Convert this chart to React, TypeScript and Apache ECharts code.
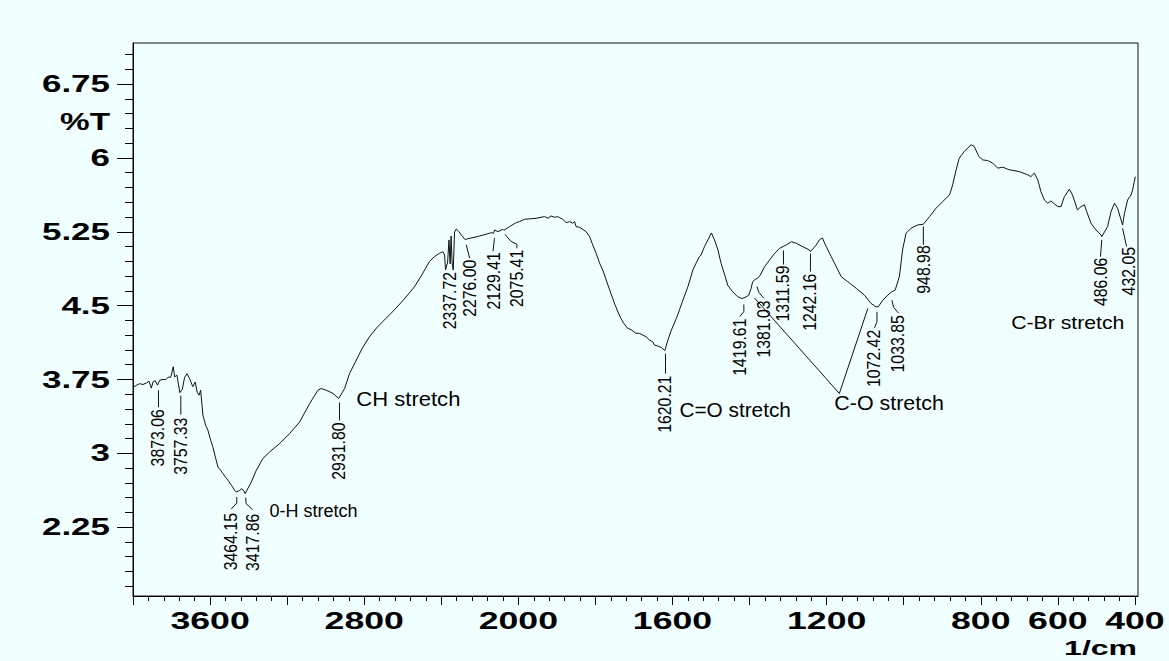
import React, { useEffect, useRef } from 'react';
import * as echarts from 'echarts';

// ---------------- DATA ----------------
// FTIR spectrum: wavenumber (1/cm) and transmittance (%T)
const wavenumbers = [
  3995, 3981, 3965, 3948, 3930, 3917, 3905, 3896, 3885, 3873, 3861, 3844, 3830, 3818, 3804, 3791, 3784, 3772, 3757, 3744,
  3732, 3719, 3706, 3690, 3677, 3667, 3657, 3649, 3637, 3623, 3611, 3597, 3585, 3571, 3559, 3545, 3533, 3519, 3507, 3489,
  3472, 3464, 3446, 3435, 3423, 3418, 3386, 3360, 3326, 3291, 3239, 3187, 3135, 3083, 3040, 3023, 2997, 2962, 2932, 2902,
  2876, 2841, 2810, 2774, 2732, 2691, 2644, 2592, 2540, 2504, 2462, 2436, 2410, 2392, 2383, 2378, 2367, 2360, 2354, 2349,
  2344, 2338, 2331, 2322, 2309, 2296, 2276, 2262, 2236, 2201, 2167, 2141, 2129, 2123, 2106, 2080, 2075, 2046, 2011, 1997,
  1984, 1954, 1932, 1923, 1915, 1906, 1898, 1885, 1876, 1867, 1859, 1854, 1850, 1841, 1824, 1815, 1807, 1798, 1789, 1781,
  1772, 1763, 1750, 1737, 1727, 1717, 1706, 1696, 1686, 1668, 1660, 1651, 1647, 1638, 1629, 1620, 1612, 1603, 1590, 1582,
  1573, 1560, 1547, 1539, 1530, 1526, 1517, 1508, 1499, 1491, 1482, 1474, 1463, 1457, 1444, 1431, 1420, 1411, 1402, 1396,
  1392, 1385, 1379, 1372, 1361, 1348, 1335, 1322, 1305, 1291, 1279, 1262, 1245, 1242, 1227, 1219, 1211, 1201, 1188, 1175,
  1162, 1145, 1123, 1102, 1085, 1072, 1066, 1054, 1041, 1032, 1022, 1011, 1003, 994, 981, 964, 949, 933, 916, 899,
  881, 873, 864, 856, 843, 825, 817, 805, 795, 782, 769, 756, 743, 726, 700, 678, 670, 661, 652, 644,
  635, 626, 618, 609, 600, 592, 583, 570, 562, 549, 540, 531, 525, 514, 501, 488, 486, 471, 462, 453,
  445, 432, 427, 419, 410, 406, 399,
];
const transmittance = [
  3.675, 3.692, 3.707, 3.699, 3.715, 3.733, 3.662, 3.726, 3.738, 3.692, 3.743, 3.75, 3.748, 3.773, 3.773, 3.88, 3.776, 3.794, 3.616, 3.651,
  3.773, 3.809, 3.758, 3.677, 3.723, 3.621, 3.59, 3.641, 3.387, 3.285, 3.234, 3.133, 3.061, 2.95, 2.861, 2.828, 2.794, 2.756, 2.726, 2.675,
  2.624, 2.607, 2.624, 2.641, 2.614, 2.59, 2.709, 2.828, 2.947, 3.014, 3.099, 3.201, 3.319, 3.506, 3.641, 3.658, 3.641, 3.608, 3.557, 3.658,
  3.811, 3.946, 4.068, 4.18, 4.282, 4.363, 4.455, 4.567, 4.689, 4.801, 4.946, 4.997, 5.031, 5.048, 5.014, 4.862, 4.943, 5.167, 4.923, 5.207,
  4.943, 4.862, 5.248, 5.279, 5.251, 5.218, 5.17, 5.18, 5.19, 5.207, 5.225, 5.241, 5.235, 5.268, 5.251, 5.276, 5.265, 5.302, 5.343, 5.353,
  5.377, 5.387, 5.404, 5.387, 5.411, 5.397, 5.404, 5.377, 5.343, 5.353, 5.337, 5.353, 5.302, 5.296, 5.251, 5.2, 5.116, 5.031, 4.93, 4.862,
  4.76, 4.658, 4.516, 4.394, 4.323, 4.272, 4.252, 4.221, 4.218, 4.183, 4.15, 4.132, 4.099, 4.089, 4.075, 4.043, 4.15, 4.251, 4.37, 4.455,
  4.556, 4.692, 4.862, 4.93, 4.997, 5.014, 5.099, 5.167, 5.238, 5.167, 5.065, 4.93, 4.793, 4.709, 4.641, 4.59, 4.572, 4.584, 4.607, 4.675,
  4.743, 4.767, 4.777, 4.811, 4.895, 4.963, 5.031, 5.082, 5.116, 5.149, 5.133, 5.099, 5.065, 5.048, 5.116, 5.167, 5.187, 5.099, 4.997, 4.895,
  4.793, 4.743, 4.675, 4.607, 4.523, 4.488, 4.488, 4.556, 4.607, 4.638, 4.658, 4.8, 5.065, 5.235, 5.286, 5.319, 5.326, 5.404, 5.489, 5.556,
  5.624, 5.726, 5.879, 5.997, 6.065, 6.133, 6.116, 6.014, 5.98, 5.973, 5.947, 5.896, 5.906, 5.879, 5.861, 5.828, 5.81, 5.845, 5.777, 5.658,
  5.573, 5.54, 5.563, 5.533, 5.505, 5.505, 5.607, 5.682, 5.624, 5.472, 5.505, 5.523, 5.454, 5.336, 5.268, 5.218, 5.2, 5.302, 5.454, 5.54,
  5.489, 5.319, 5.438, 5.573, 5.624, 5.675, 5.81,
];

// Straight V-shaped stroke drawn across the 1400-1090 region
const strokeWavenumbers = [1387, 1167, 1093];
const strokeTransmittance = [4.577, 3.608, 4.472];

// Peak picks
const peakLabels = [
  '3873.06', '3757.33', '3464.15', '3417.86', '2931.80', '2337.72', '2276.00', '2129.41', '2075.41', '1620.21',
  '1419.61', '1381.03', '1311.59', '1242.16', '1072.42', '1033.85', '948.98', '486.06', '432.05',
];
const peakWavenumbers = [3873, 3757, 3464, 3418, 2932, 2338, 2276, 2129, 2075, 1620, 1420, 1381, 1312, 1242, 1072, 1034, 949, 486, 432];
const peakTransmittance = [3.692, 3.616, 2.607, 2.59, 3.557, 4.862, 5.17, 5.235, 5.265, 4.043, 4.572, 4.777, 5.1, 5.048, 4.488, 4.636, 5.326, 5.2, 5.319];

// Band assignments (text anchored at left-middle)
const bandNames = ['0-H stretch', 'CH stretch', 'C=O stretch', 'C-O stretch', 'C-Br stretch'];
const bandWavenumbers = [3291, 2841, 1582, 1180, 721];
const bandTransmittance = [2.411, 3.545, 3.438, 3.514, 4.328];

// Axis ticks
const xMajorTicks = [4000, 3600, 3200, 2800, 2400, 2000, 1800, 1600, 1400, 1200, 1000, 800, 600, 400];
const xLabelTicks = [3600, 2800, 2000, 1600, 1200, 800, 600, 400];
const yMajorTicks = [2.25, 3, 3.75, 4.5, 5.25, 6, 6.75];
const yMinorTicks = [
  1.65, 1.8, 1.95, 2.1, 2.4, 2.55, 2.7, 2.85, 3.15, 3.3, 3.45, 3.6, 3.9, 4.05, 4.2, 4.35, 4.65, 4.8, 4.95, 5.1,
  5.4, 5.55, 5.7, 5.85, 6.15, 6.3, 6.45, 6.6, 6.9, 7.05,
];
const xName = '1/cm';
const yName = '%T';

// ---------------- LAYOUT / STYLE ----------------
const BG = '#F0FFFF';
const FONT = '"Liberation Sans", Arial, sans-serif';
const WN_LEFT = 4000;
const U_MAX = 2608; // right frame ~392 1/cm
const Y_MIN = 1.551;
const Y_MAX = 7.167;

// Shimadzu-style axis: 400 1/cm per division above 2000, 200 below
function wnToU(wn: number): number {
  return wn >= 2000 ? (WN_LEFT - wn) / 2 : 1000 + (2000 - wn);
}

// leader polylines and text anchors, pixel offsets from the peak point
const peakLeaderOffsets: number[][][] = [
  [[1, 5], [1, 22]],
  [[1, 3], [1, 22]],
  [[0.5, 5], [0.5, 11], [-5, 17]],
  [[0.5, 4], [1, 10], [7.5, 16]],
  [[0.7, 4], [0.7, 22]],
  [],
  [[1, 5], [4.5, 18.5]],
  [[1, 5], [-0.5, 18]],
  [[1, 4], [7, 11], [13, 14], [13, 18]],
  [[0.7, 3], [0.7, 23]],
  [[2, 6], [2, 13], [-2, 18]],
  [[0, 8], [2, 14], [7, 20]],
  [[0, 4], [0, 18]],
  [[0, 2], [0, 20]],
  [[1, 5], [1, 15], [-1.5, 21]],
  [[1.3, 8], [3, 15], [8, 21]],
  [[0, 2], [0, 20.7]],
  [[0, 3.3], [-1.3, 20]],
  [[0, 3.3], [4, 21.7]],
];
const peakTextOffsets = [
  [0.5, 24], [1, 25], [-5, 21], [8, 20], [0.7, 24], [-3, 2], [5, 20], [1, 19], [13, 19.5], [0.7, 25],
  [-2, 20], [7, 22], [0, 19], [0, 22], [-1.5, 23], [8, 23], [0.5, 21], [-1, 21], [6.6, 22],
];
const bandFontSizes = [18, 21, 20, 21, 18];
const bandScaleX = [1, 1.05, 1.04, 1.02, 1.18];

export default function App() {
  const ref = useRef<HTMLDivElement>(null);

  useEffect(() => {
    document.body.style.margin = '0';
    const el = ref.current;
    if (!el) return;
    const chart = echarts.init(el, null, { renderer: 'svg' });

    const xMajorU = xMajorTicks.map(wnToU);
    const xMinorU: number[] = [];
    for (let i = 1; i < xMajorU.length; i++) {
      const a = xMajorU[i - 1];
      const b = xMajorU[i];
      for (let k = 1; k < 5; k++) xMinorU.push(a + ((b - a) * k) / 5);
    }

    const spectrum = wavenumbers.map((w, i) => [wnToU(w), transmittance[i]]);
    const stroke = strokeWavenumbers.map((w, i) => [wnToU(w), strokeTransmittance[i]]);

    const black = '#000';
    const baseAxis = {
      type: 'value',
      axisLabel: { show: false },
      splitLine: { show: false },
    };

    chart.setOption({
      animation: false,
      backgroundColor: BG,
      grid: {
        left: 133,
        right: 31,
        top: 43,
        bottom: 65,
        show: true,
        borderColor: '#111',
        borderWidth: 1,
        containLabel: false,
        outerBoundsMode: 'none',
      },
      xAxis: [
        {
          ...baseAxis,
          position: 'bottom',
          min: 0,
          max: U_MAX,
          axisLine: { show: true, onZero: false, lineStyle: { color: black, width: 1 } },
          axisTick: { show: true, inside: false, length: 9, customValues: xMajorU, lineStyle: { color: black, width: 1 } },
        },
        {
          ...baseAxis,
          position: 'bottom',
          min: 0,
          max: U_MAX,
          axisLine: { show: false, onZero: false },
          axisTick: { show: true, inside: false, length: 5, customValues: xMinorU, lineStyle: { color: black, width: 1 } },
        },
      ],
      yAxis: [
        {
          ...baseAxis,
          position: 'left',
          min: Y_MIN,
          max: Y_MAX,
          axisLine: { show: true, onZero: false, lineStyle: { color: black, width: 1 } },
          axisTick: { show: true, inside: false, length: 16, customValues: yMajorTicks, lineStyle: { color: black, width: 1 } },
        },
        {
          ...baseAxis,
          position: 'left',
          min: Y_MIN,
          max: Y_MAX,
          axisLine: { show: false, onZero: false },
          axisTick: { show: true, inside: false, length: 8, customValues: yMinorTicks, lineStyle: { color: black, width: 1 } },
        },
      ],
      series: [
        {
          type: 'line',
          xAxisIndex: 0,
          yAxisIndex: 0,
          data: spectrum,
          showSymbol: false,
          symbol: 'none',
          lineStyle: { color: '#111', width: 1 },
          silent: true,
        },
        {
          type: 'line',
          xAxisIndex: 0,
          yAxisIndex: 0,
          data: stroke,
          showSymbol: false,
          symbol: 'none',
          lineStyle: { color: '#111', width: 1 },
          silent: true,
        },
      ],
    });

    const toPx = (wn: number, t: number) =>
      chart.convertToPixel({ xAxisIndex: 0, yAxisIndex: 0 }, [wnToU(wn), t]) as number[];
    const xPx = (wn: number) => chart.convertToPixel({ xAxisIndex: 0 }, wnToU(wn)) as number;
    const yPx = (t: number) => chart.convertToPixel({ yAxisIndex: 0 }, t) as number;

    const leftEdge = chart.convertToPixel({ xAxisIndex: 0 }, 0) as number;
    const rightEdge = chart.convertToPixel({ xAxisIndex: 0 }, U_MAX) as number;
    const bottomEdge = yPx(Y_MIN);

    const graphics: any[] = [];

    // y tick labels
    yMajorTicks.forEach((v) => {
      graphics.push({
        type: 'text',
        x: leftEdge - 23,
        y: yPx(v),
        scaleX: 1.52,
        silent: true,
        style: { text: String(v), fontFamily: FONT, fontWeight: 'bold', fontSize: 23, fill: black, align: 'right', verticalAlign: 'middle' },
      });
    });
    graphics.push({
      type: 'text',
      x: leftEdge - 23,
      y: yPx(6.36),
      scaleX: 1.45,
      silent: true,
      style: { text: yName, fontFamily: FONT, fontWeight: 'bold', fontSize: 23, fill: black, align: 'right', verticalAlign: 'middle' },
    });

    // x tick labels
    xLabelTicks.forEach((w) => {
      graphics.push({
        type: 'text',
        x: xPx(w),
        y: bottomEdge + 25,
        scaleX: 1.55,
        silent: true,
        style: { text: String(w), fontFamily: FONT, fontWeight: 'bold', fontSize: 23, fill: black, align: 'center', verticalAlign: 'middle' },
      });
    });
    graphics.push({
      type: 'text',
      x: rightEdge - 1,
      y: bottomEdge + 52,
      scaleX: 1.6,
      silent: true,
      style: { text: xName, fontFamily: FONT, fontWeight: 'bold', fontSize: 20, fill: black, align: 'right', verticalAlign: 'middle' },
    });

    // peak picks
    peakLabels.forEach((lab, i) => {
      const p = toPx(peakWavenumbers[i], peakTransmittance[i]);
      const lead = peakLeaderOffsets[i];
      if (lead.length > 1) {
        graphics.push({
          type: 'polyline',
          silent: true,
          shape: { points: lead.map((o) => [p[0] + o[0], p[1] + o[1]]) },
          style: { stroke: '#111', lineWidth: 1, fill: null },
        });
      }
      const to = peakTextOffsets[i];
      graphics.push({
        type: 'text',
        x: p[0] + to[0],
        y: p[1] + to[1],
        rotation: Math.PI / 2,
        scaleX: 0.88,
        silent: true,
        style: { text: lab, fontFamily: FONT, fontSize: 18, fill: black, align: 'right', verticalAlign: 'middle' },
      });
    });

    // band assignments
    bandNames.forEach((name, i) => {
      const p = toPx(bandWavenumbers[i], bandTransmittance[i]);
      graphics.push({
        type: 'text',
        x: p[0],
        y: p[1],
        scaleX: bandScaleX[i],
        silent: true,
        style: { text: name, fontFamily: FONT, fontSize: bandFontSizes[i], fill: black, align: 'left', verticalAlign: 'middle' },
      });
    });

    chart.setOption({ graphic: graphics });

    return () => {
      chart.dispose();
    };
  }, []);

  return (
    <div
      ref={ref}
      style={{ position: 'absolute', left: 0, top: 0, width: 1169, height: 661, background: BG }}
    />
  );
}
